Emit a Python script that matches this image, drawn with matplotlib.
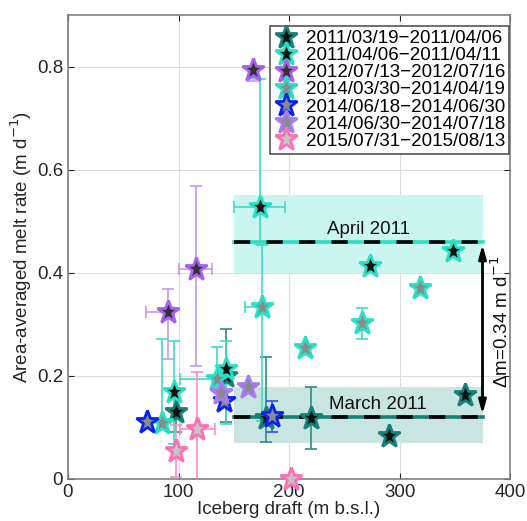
import matplotlib

matplotlib.use("Agg")
import matplotlib.pyplot as plt
import numpy as np
from matplotlib.lines import Line2D

plt.rcParams["font.family"] = ["Liberation Sans", "DejaVu Sans"]

# series: label, edge colour, face colour, errorbar colour
LABELS = [
    "2011/03/19\u22122011/04/06",
    "2011/04/06\u22122011/04/11",
    "2012/07/13\u22122012/07/16",
    "2014/03/30\u22122014/04/19",
    "2014/06/18\u22122014/06/30",
    "2014/06/30\u22122014/07/18",
    "2015/07/31\u22122015/08/13",
]
EDGE = ["#138277", "#28e0c6", "#a661ee", "#28e0c6", "#0a22f0", "#a77cf2", "#ff6fb4"]
FACE = ["#111111", "#111111", "#333333", "#8a8a8a", "#8a8a8a", "#8a8a8a", "#c4c4c4"]
BAR = ["#2f8e84", "#3fdcc6", "#c49af5", "#3fdcc6", "#3050f0", "#b898f5", "#ff8cc4"]

# draft (m), melt rate (m/d), errors as (lower, upper)
X = [
    [97.5, 142.7, 178.8, 220.3, 290.1, 358.8],
    [96.0, 142.7, 173.4, 273.0, 348.2],
    [90.9, 115.6, 167.3],
    [85.5, 135.2, 175.2, 214.0, 266.1, 318.7],
    [71.3, 141.2, 184.8],
    [138.1, 163.1],
    [97.5, 117.1, 202.0],
]
Y = [
    [0.130, 0.200, 0.118, 0.118, 0.083, 0.163],
    [0.168, 0.214, 0.528, 0.413, 0.442],
    [0.323, 0.408, 0.793],
    [0.109, 0.193, 0.333, 0.254, 0.302, 0.370],
    [0.111, 0.151, 0.121],
    [0.166, 0.179],
    [0.054, 0.097, 0.0],
]
YERR_LO = [
    [0.04, 0.09, 0.046, 0.06, 0, 0],
    [0.10, 0.107, 0.073, 0, 0],
    [0.09, 0.19, 0.02],
    [0.0, 0.02, 0.22, 0, 0.03, 0],
    [0, 0, 0.03],
    [0, 0],
    [0.05, 0.11, 0],
]
YERR_HI = [
    [0.04, 0.09, 0.119, 0.06, 0, 0],
    [0.10, 0.054, 0.248, 0, 0],
    [0.045, 0.16, 0.0],
    [0.163, 0.063, 0.12, 0, 0.03, 0],
    [0, 0, 0.03],
    [0, 0],
    [0.05, 0.11, 0],
]
XERR_LO = [
    [0, 0, 0, 0, 0, 0],
    [0, 0, 23, 0, 0],
    [20, 15, 0],
    [0, 34, 15, 0, 0, 0],
    [0, 0, 0],
    [0, 0],
    [0, 16, 0],
]
XERR_HI = [
    [0, 0, 0, 0, 0, 0],
    [0, 0, 23, 0, 0],
    [5, 15, 0],
    [0, 9, 0, 0, 0, 0],
    [0, 0, 0],
    [0, 0],
    [0, 16, 0],
]

# mean melt rates and spread for the two 2011 periods
APRIL_MEAN, APRIL_BAND = 0.46, (0.40, 0.55)
MARCH_MEAN, MARCH_BAND = 0.12, (0.07, 0.178)
BAND_X = (150, 375)

FS = 13.5

fig = plt.figure(figsize=(5.27, 5.21), dpi=100)
ax = fig.add_axes([0.129, 0.081, 0.839, 0.890])

# shaded bands and mean lines
ax.fill_between(BAND_X, *APRIL_BAND, color="#cbf6ef", zorder=1, lw=0)
ax.fill_between(BAND_X, *MARCH_BAND, color="#c9e5e2", zorder=1, lw=0)
ax.plot(BAND_X, [APRIL_MEAN] * 2, color="#28e0c6", lw=2.6, zorder=2)
ax.plot(BAND_X, [APRIL_MEAN] * 2, color="black", lw=2.6, dashes=(4.5, 4.5), zorder=2)
ax.plot(BAND_X, [MARCH_MEAN] * 2, color="#138277", lw=2.6, zorder=2)
ax.plot(BAND_X, [MARCH_MEAN] * 2, color="black", lw=2.6, dashes=(4.5, 4.5), zorder=2)
ax.text(272, APRIL_MEAN + 0.007, "April 2011", ha="center", va="bottom", fontsize=FS, color="#111111", zorder=3)
ax.text(280, MARCH_MEAN + 0.007, "March 2011", ha="center", va="bottom", fontsize=FS, color="#111111", zorder=3)

# delta arrow
ax.annotate(
    "", xy=(375, MARCH_MEAN), xytext=(375, APRIL_MEAN),
    arrowprops=dict(arrowstyle="<|-|>,head_length=0.8,head_width=0.22", color="black", lw=2),
    zorder=4,
)
ax.text(392, (APRIL_MEAN + MARCH_MEAN) / 2 + 0.015, "\u0394m=0.34 m d$^{-1}$", rotation=90,
        ha="center", va="center", fontsize=FS, color="#111111")

# error bars then stars
for i in range(len(LABELS)):
    for j in range(len(X[i])):
        yl, yh = YERR_LO[i][j], YERR_HI[i][j]
        xl, xh = XERR_LO[i][j], XERR_HI[i][j]
        if yl + yh > 0:
            ax.errorbar(X[i][j], Y[i][j], yerr=[[yl], [yh]], fmt="none", ecolor=BAR[i],
                        elinewidth=1.2, capsize=4, capthick=1.2, zorder=5)
        if xl + xh > 0:
            ax.errorbar(X[i][j], Y[i][j], xerr=[[xl], [xh]], fmt="none", ecolor=BAR[i],
                        elinewidth=1.2, capsize=4, capthick=1.2, zorder=5)
    ax.plot(X[i], Y[i], ls="none", marker="*", ms=17, mfc=FACE[i], mec=EDGE[i], mew=2.0,
            zorder=6 + i * 0.1, clip_on=False)

handles = [
    Line2D([], [], ls="none", marker="*", ms=17, mfc=FACE[i], mec=EDGE[i], mew=2.0, label=LABELS[i])
    for i in range(len(LABELS))
]
leg = ax.legend(handles=handles, loc="upper right", bbox_to_anchor=(1.0, 0.978), fontsize=FS,
                labelspacing=0.0, handlelength=1.3, handletextpad=0.4, borderpad=0.2,
                borderaxespad=0.05, fancybox=False, framealpha=1, edgecolor="#555555")
leg.get_frame().set_linewidth(1.2)
leg.set_zorder(10)

ax.set_xlim(0, 400)
ax.set_ylim(0, 0.9)
ax.set_xticks([0, 100, 200, 300, 400])
ax.set_yticks([0, 0.2, 0.4, 0.6, 0.8])
ax.set_yticklabels(["0", "0.2", "0.4", "0.6", "0.8"])
ax.grid(True, color="#dddddd", lw=0.8, zorder=0)
ax.set_axisbelow(True)
ax.tick_params(direction="in", top=True, right=True, length=4, labelsize=FS, colors="#262626")
for s in ax.spines.values():
    s.set_color("#808080")
    s.set_linewidth(1.2)
ax.set_xlabel("Iceberg draft (m b.s.l.)", fontsize=FS, color="#262626", labelpad=0)
ax.set_ylabel("Area-averaged melt rate (m d$^{-1}$)", fontsize=FS, color="#262626", labelpad=2)

fig.savefig("out.png", dpi=100)
